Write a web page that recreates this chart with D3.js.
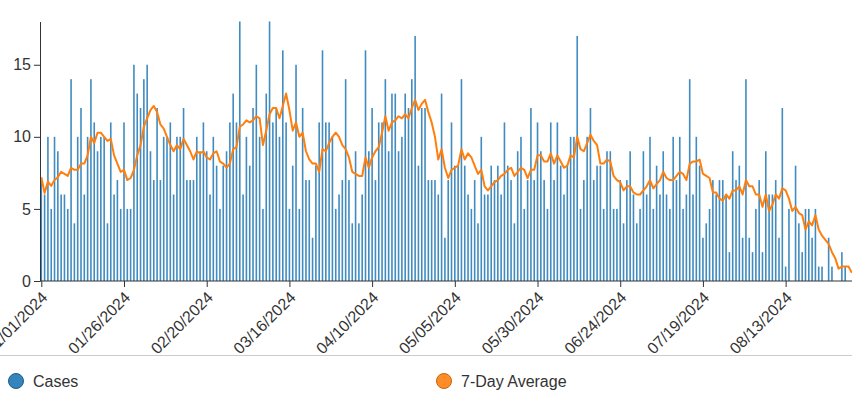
<!DOCTYPE html>
<html>
<head>
<meta charset="utf-8">
<script src="https://cdn.jsdelivr.net/npm/d3@7"></script>
<style>
  html, body { margin: 0; padding: 0; background: #fff; }
  svg { display: block; font-family: "Liberation Sans", Arial, sans-serif; }
</style>
</head>
<body>
<svg id="chart" width="852" height="414"></svg>
<script>
// ---- data ----
const startDate = "2024-01-01";
const cases = [
  7,6,10,5,10,9,6,6,5,14,4,10,12,6,10,14,11,9,10,10,
  4,11,6,7,5,11,5,5,15,13,12,14,15,9,7,12,7,10,10,11,
  6,10,10,12,7,7,7,10,9,11,9,6,10,8,5,8,9,11,13,11,
  18,6,10,8,12,15,10,5,13,18,11,12,10,16,11,5,8,15,5,12,
  7,7,3,8,11,16,11,11,10,5,6,7,14,7,4,9,4,6,16,9,
  12,7,11,11,14,9,13,13,9,10,13,12,14,17,8,12,12,7,7,7,
  6,13,3,7,11,8,8,14,8,6,5,7,4,10,6,6,8,7,8,6,
  11,8,7,4,9,10,5,7,12,7,11,9,7,5,11,7,11,8,6,8,
  10,10,17,5,7,10,12,7,8,8,5,9,9,5,5,7,4,7,9,6,
  4,5,9,6,10,5,8,6,9,6,5,10,7,10,5,6,14,6,10,8,
  3,4,5,7,6,7,7,6,2,9,7,8,3,14,3,2,5,7,2,9,
  6,6,7,3,12,1,5,0,8,4,2,5,5,3,5,1,1,0,3,1,
  0,0,2,1,0,0
];
// 7-day average for the first six days (window reaches into December)
const avgLead = [7.2, 6.1, 6.9, 6.6, 7.0, 7.2];
const tickLabels = ["01/01/2024","01/26/2024","02/20/2024","03/16/2024","04/10/2024",
                    "05/05/2024","05/30/2024","06/24/2024","07/19/2024","08/13/2024"];
const yTicks = [0, 5, 10, 15];
const seriesNames = ["Cases", "7-Day Average"];
const seriesColors = ["#1f77b4", "#ff7f0e"];

// ---- build rows ----
const parse = d3.timeParse("%Y-%m-%d");
const parseTick = d3.timeParse("%m/%d/%Y");
const t0 = parse(startDate);
const rows = cases.map((v, i) => {
  const win = cases.slice(Math.max(0, i - 6), i + 1);
  return {
    date: d3.timeDay.offset(t0, i),
    cases: v,
    avg: i < avgLead.length ? avgLead[i] : d3.mean(win)
  };
});

const svg = d3.select("#chart");
const W = 852, H = 414;
const x = d3.scaleTime()
  .domain([rows[0].date, rows[rows.length - 1].date])
  .range([41.3, 851.8]);
const y = d3.scaleLinear().domain([0, 18]).range([281, 21.5]);

// bars
svg.append("g")
  .selectAll("rect")
  .data(rows)
  .join("rect")
  .attr("x", d => x(d.date) - 0.8)
  .attr("width", 1.6)
  .attr("y", d => y(d.cases))
  .attr("height", d => y(0) - y(d.cases))
  .attr("fill", seriesColors[0])
  .attr("opacity", 0.85);

// average line
svg.append("path")
  .datum(rows)
  .attr("fill", "none")
  .attr("stroke", seriesColors[1])
  .attr("stroke-width", 2)
  .attr("stroke-linejoin", "round")
  .attr("d", d3.line().x(d => x(d.date)).y(d => y(d.avg)));

// axes
const xAxis = svg.append("g")
  .attr("transform", `translate(0,${y(0)})`)
  .call(d3.axisBottom(x)
    .tickValues(tickLabels.map(parseTick))
    .tickFormat(d3.timeFormat("%m/%d/%Y"))
    .tickSizeOuter(0));
xAxis.selectAll("text")
  .attr("font-size", 16)
  .attr("fill", "#333")
  .style("text-anchor", "end")
  .attr("dx", "-0.47em")
  .attr("dy", "0.51em")
  .attr("transform", "rotate(-45)");
xAxis.select(".domain").attr("stroke", "#333").attr("d", `M40,0H${W}`);
xAxis.selectAll(".tick line").attr("stroke", "#333");

const yAxis = svg.append("g")
  .attr("transform", "translate(40,0)")
  .call(d3.axisLeft(y).tickValues(yTicks).tickSizeOuter(0));
yAxis.selectAll("text").attr("font-size", 16).attr("fill", "#333");
yAxis.select(".domain").attr("stroke", "#333");
yAxis.selectAll(".tick line").attr("stroke", "#333");

// legend separator
svg.append("line")
  .attr("x1", 0).attr("x2", W)
  .attr("y1", 355.5).attr("y2", 355.5)
  .attr("stroke", "#ccc");

const legendX = [16, 444];
const lg = svg.append("g").selectAll("g")
  .data(seriesNames)
  .join("g")
  .attr("transform", (d, i) => `translate(${legendX[i]},381)`);
lg.append("circle")
  .attr("r", 7.5)
  .attr("fill", (d, i) => seriesColors[i])
  .attr("fill-opacity", 0.9)
  .attr("stroke", (d, i) => d3.color(seriesColors[i]).darker(0.7))
  .attr("stroke-width", 1);
lg.append("text")
  .attr("x", 17)
  .attr("y", 6)
  .attr("font-size", 16)
  .attr("fill", "#333")
  .text(d => d);
</script>
</body>
</html>
